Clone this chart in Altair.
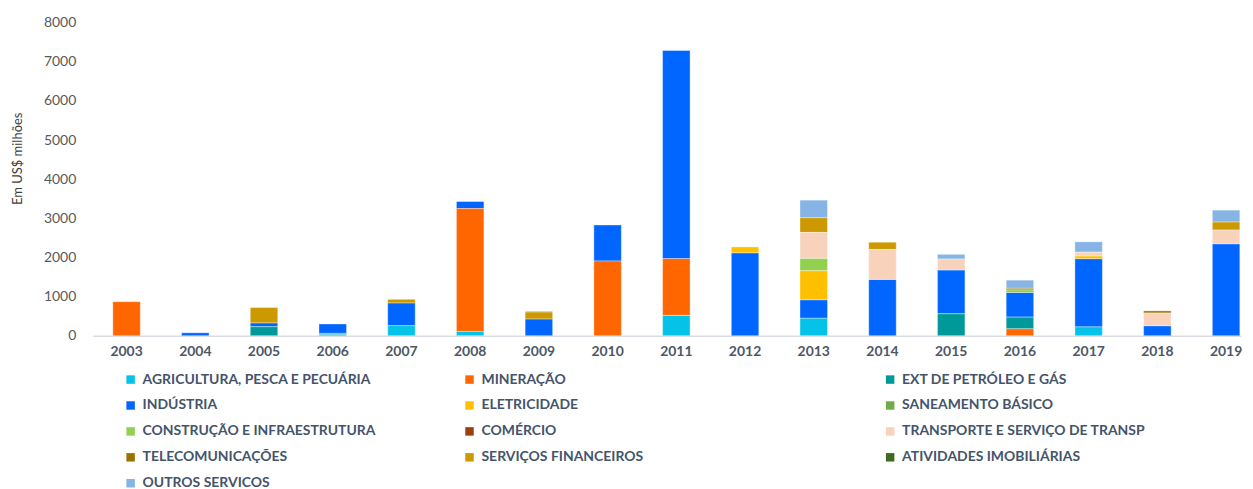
import altair as alt
import pandas as pd

years = [str(y) for y in range(2003, 2020)]

categories = [
    "AGRICULTURA, PESCA E PECUÁRIA",
    "MINERAÇÃO",
    "EXT DE PETRÓLEO E GÁS",
    "INDÚSTRIA",
    "ELETRICIDADE",
    "SANEAMENTO BÁSICO",
    "CONSTRUÇÃO E INFRAESTRUTURA",
    "COMÉRCIO",
    "TRANSPORTE E SERVIÇO DE TRANSP",
    "TELECOMUNICAÇÕES",
    "SERVIÇOS FINANCEIROS",
    "ATIVIDADES IMOBILIÁRIAS",
    "OUTROS SERVICOS",
]
colors = [
    "#05c3e8", "#ff6600", "#009999", "#0066ff", "#ffc000", "#70ad47",
    "#92d050", "#9e3d0e", "#f8d2bb", "#997300", "#cc9900", "#3d6b22", "#86b4e4",
]

#            2003 2004 2005 2006 2007 2008 2009 2010 2011 2012 2013 2014 2015 2016 2017 2018 2019
agri      = [0,   0,   0,   40,  260, 110, 0,   0,   520, 0,   450, 0,   0,   0,   230, 0,   0]
mining    = [870, 0,   0,   0,   0,   3140, 0,  1910, 1450, 0,  0,   0,   0,   180, 0,   0,   0]
petroleo  = [0,   0,   230, 20,  0,   0,   0,   0,   0,   0,   0,   0,   560, 295, 0,   0,   0]
industria = [0,   75,  100, 240, 580, 180, 430, 920, 5320, 2120, 470, 1440, 1120, 630, 1740, 255, 2350]
eletric   = [0,   0,   0,   0,   0,   0,   0,   0,   0,   150, 740, 0,   0,   0,   70,  0,   0]
saneam    = [0,   0,   0,   0,   0,   0,   0,   0,   0,   0,   0,   0,   0,   0,   0,   0,   0]
constr    = [0,   0,   0,   0,   0,   0,   0,   0,   0,   0,   320, 0,   0,   70,  0,   0,   0]
comercio  = [0,   0,   0,   0,   0,   0,   0,   0,   0,   0,   0,   0,   0,   0,   0,   0,   0]
transp    = [0,   0,   0,   0,   0,   0,   0,   0,   0,   0,   660, 765, 280, 0,   95,  325, 350]
telecom   = [0,   0,   0,   0,   0,   0,   0,   0,   0,   0,   0,   0,   0,   40,  0,   55,  0]
financ    = [0,   0,   390, 0,   90,  0,   175, 0,   0,   0,   375, 185, 0,   0,   0,   0,   205]
imob      = [0,   0,   0,   0,   0,   0,   0,   0,   0,   0,   0,   0,   0,   0,   0,   0,   0]
outros    = [0,   0,   0,   0,   0,   0,   25,  0,   0,   0,   450, 0,   120, 205, 265, 0,   305]

series = [agri, mining, petroleo, industria, eletric, saneam, constr,
          comercio, transp, telecom, financ, imob, outros]

rows = []
for i, (cat, vals) in enumerate(zip(categories, series)):
    for yr, v in zip(years, vals):
        if v > 0:
            rows.append({"year": yr, "cat": cat, "value": v, "order": i})
df = pd.DataFrame(rows)

legend_cols = [[0, 3, 6, 9, 12], [1, 4, 7, 10], [2, 5, 8, 11]]
legend_x = [31, 371, 793]

xscale = alt.Scale(domain=years, paddingInner=0.6, paddingOuter=0.155, align=0.944)
xaxis = alt.Axis(title=None, labelAngle=0, labelFont="Lato", labelFontWeight="bold",
                 labelFontSize=14, labelColor="#4d5766", labelPadding=9, ticks=False,
                 domainColor="#d9dde3", domainWidth=1.5, grid=False)
yaxis = alt.Axis(title="Em US$ milhões", values=list(range(0, 8001, 1000)), format="d",
                 grid=False, ticks=False, domain=False, labelFont="Lato", labelFontSize=14,
                 labelColor="#595959", labelPadding=17, titleFont="Lato",
                 titleFontWeight="normal", titleFontSize=13, titleColor="#404040",
                 titleX=-75, titleY=136, titleAlign="center", titleBaseline="middle",
                 titleAngle=270)

base = alt.Chart(df).transform_stack(
    stack="value", as_=["y0", "y1"], groupby=["year"],
    sort=[alt.SortField("order", order="ascending")],
)

layers = []
for k, idxs in enumerate(legend_cols):
    cats = [categories[i] for i in idxs]
    cols = [colors[i] for i in idxs]
    layer = base.transform_filter(
        alt.FieldOneOfPredicate(field="cat", oneOf=cats)
    ).mark_bar(stroke="#ffffff", strokeWidth=0.6, strokeOpacity=0.6).encode(
        x=alt.X("year:N", scale=xscale, axis=xaxis, sort=years),
        y=alt.Y("y0:Q", scale=alt.Scale(domain=[0, 8000], nice=False), axis=yaxis),
        y2="y1:Q",
        color=alt.Color(
            "cat:N",
            scale=alt.Scale(domain=cats, range=cols),
            legend=alt.Legend(
                title=None, orient="none", legendX=legend_x[k], legendY=351,
                direction="vertical", symbolType="square", symbolSize=72,
                symbolStrokeWidth=0, labelFont="Lato", labelFontWeight="bold",
                labelFontSize=14, labelColor="#44546a", rowPadding=12,
                labelOffset=5, labelLimit=500,
            ),
        ),
    )
    layers.append(layer)

chart = alt.layer(*layers).resolve_scale(color="independent").properties(
    width=1152, height=314,
    padding={"left": 85, "top": 14, "right": 4, "bottom": 153},
    autosize=alt.AutoSizeParams(type="none"),
).configure_view(stroke=None)

chart.save("out.html", embed_options={"renderer": "svg", "actions": False})
